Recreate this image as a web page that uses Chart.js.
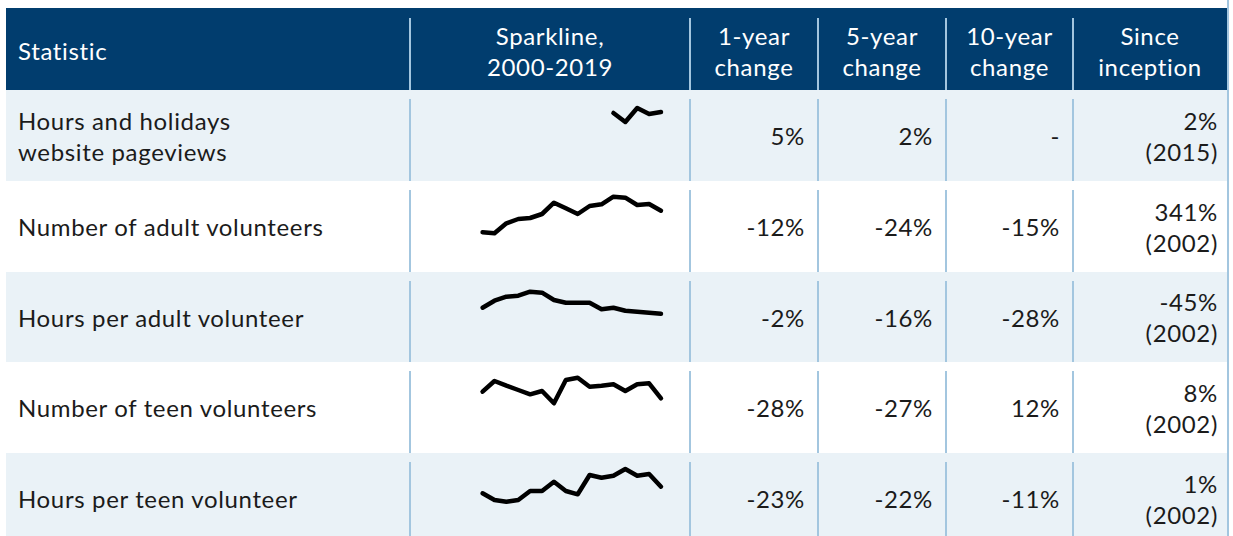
<!DOCTYPE html>
<html>
<head>
<meta charset="utf-8">
<script src="https://cdn.jsdelivr.net/npm/chart.js@4"></script>
<style>
  html, body { margin: 0; padding: 0; background: #fff; }
  body { width: 1233px; height: 536px; position: relative; overflow: hidden;
         font-family: Lato, "Noto Sans", sans-serif; color: #1b1b1b; }
  .tabla { position: absolute; left: 6px; top: 8px; width: 1221px; }
  .fila { position: relative; display: flex; }
  .fila.cab { background: #013d6e; color: #fff; height: 82px; }
  .fila.clara { background: #eaf2f7; }
  .fila.blanca { background: #fff; }
  .celda { position: relative; box-sizing: border-box; display: flex; align-items: center;
           font-size: 24px; line-height: 31px; letter-spacing: 0.65px; }
  .cab .celda { padding-top: 3px; }
  .celda + .celda::before { content: ""; position: absolute; left: -1px; top: 9px; bottom: 0;
           width: 2px; background: #a3c6df; }
  .cab .celda + .celda::before { top: 10px; }
  .c0 { width: 404px; padding-left: 12px; }
  .c1 { width: 280px; justify-content: center; text-align: center; }
  .c2 { width: 128px; }
  .c3 { width: 128px; }
  .c4 { width: 127px; }
  .c5 { width: 154px; }
  .num { justify-content: flex-end; text-align: right; padding-right: 13px; }
  .c5.num { padding-right: 9px; }
  .cab .num { justify-content: center; text-align: center; padding-right: 0; }
  .borde { position: absolute; left: 1227px; top: 0; width: 2px; height: 536px; background: #a3c6df; }
  canvas.spark { position: absolute; left: 0; top: 0; }
</style>
</head>
<body>
<div class="tabla" id="tabla"></div>
<div class="borde"></div>
<script>
// ---- datos ----
const encabezados = ['Statistic', 'Sparkline,<br>2000-2019', '1-year<br>change', '5-year<br>change', '10-year<br>change', 'Since<br>inception'];
const estadisticas = ['Hours and holidays<br>website pageviews', 'Number of adult volunteers', 'Hours per adult volunteer', 'Number of teen volunteers', 'Hours per teen volunteer'];
const cambio1 = ['5%', '-12%', '-2%', '-28%', '-23%'];
const cambio5 = ['2%', '-24%', '-16%', '-27%', '-22%'];
const cambio10 = ['-', '-15%', '-28%', '12%', '-11%'];
const desdeInicio = ['2%', '341%', '-45%', '8%', '1%'];
const anioInicio = ['2015', '2002', '2002', '2002', '2002'];
const alturasFila = [91, 91, 90, 91, 91];

const anios = ['2000', '2001', '2002', '2003', '2004', '2005', '2006', '2007', '2008', '2009',
               '2010', '2011', '2012', '2013', '2014', '2015', '2016', '2017', '2018', '2019'];

// nivel relativo de cada serie (índice de la sparkline)
const pageviews      = [null, null, null, null, null, null, null, null, null, null, null, null, null, null, null, 67, 58, 72, 66, 68];
const adultos        = [null, null, null, null, 38.7, 37.7, 47.7, 52, 53, 57, 68.3, 62.7, 57, 65, 66.7, 74.3, 73.3, 66, 67, 60.3];
const horasAdulto    = [null, null, null, null, 54.3, 61.3, 65.3, 66.3, 70.3, 69.3, 62, 59.3, 59.3, 59.3, 52.7, 54.3, 51.3, 50.3, 49.3, 48.3];
const adolescentes   = [null, null, null, null, 60.3, 71, 66.3, 62, 57.7, 61, 48.7, 72, 74.3, 65.3, 66.3, 67.7, 61, 67.7, 68.7, 53.7];
const horasAdolesc   = [null, null, null, null, 49.7, 43, 41.3, 43, 52, 52, 61.3, 52, 48.7, 68, 65.3, 67.3, 74, 67.3, 69, 56.3];
const series = [pageviews, adultos, horasAdulto, adolescentes, horasAdolesc];

// ---- tabla ----
const tabla = document.getElementById('tabla');
tabla.innerHTML =
  `<div class="fila cab">${encabezados.map((t, i) =>
      `<div class="celda c${i}${i >= 2 ? ' num' : ''}">${t}</div>`).join('')}</div>` +
  estadisticas.map((nombre, r) => `
    <div class="fila ${r % 2 === 0 ? 'clara' : 'blanca'}" style="height:${alturasFila[r]}px;">
      <div class="celda c0">${nombre}</div>
      <div class="celda c1"><canvas class="spark" id="spark-${r}" width="280" height="90"></canvas></div>
      <div class="celda c2 num">${cambio1[r]}</div>
      <div class="celda c3 num">${cambio5[r]}</div>
      <div class="celda c4 num">${cambio10[r]}</div>
      <div class="celda c5 num">${desdeInicio[r]}<br>(${anioInicio[r]})</div>
    </div>`).join('');

// ---- sparklines ----
series.forEach((valores, r) => {
  const canvas = document.getElementById('spark-' + r);
  new Chart(canvas, {
    type: 'line',
    data: {
      labels: anios,
      datasets: [{
        data: valores,
        borderColor: '#000',
        borderWidth: 4.5,
        borderJoinStyle: 'round',
        borderCapStyle: 'round',
        pointRadius: 0,
        tension: 0,
        clip: false,
      }],
    },
    options: {
      responsive: false,
      animation: false,
      layout: { padding: { left: 25, right: 29, top: 0, bottom: 0 } },
      plugins: { legend: { display: false }, tooltip: { enabled: false } },
      scales: {
        x: { display: false, offset: false },
        y: { display: false, min: 0, max: 90 },
      },
    },
  });
});
</script>
</body>
</html>
